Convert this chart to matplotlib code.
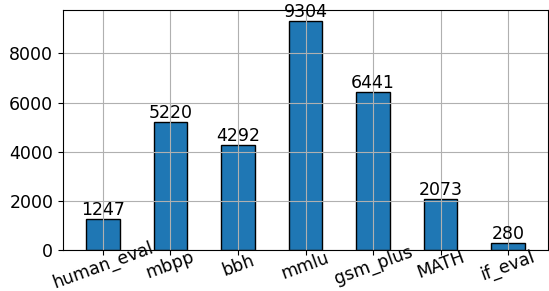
import matplotlib
matplotlib.use("Agg")
import matplotlib.pyplot as plt

categories = ["human_eval", "mbpp", "bbh", "mmlu", "gsm_plus", "MATH", "if_eval"]
counts = [1247, 5220, 4292, 9304, 6441, 2073, 280]

plt.rcParams['font.size'] = 12.5
fig = plt.figure(figsize=(5.49, 2.91), dpi=100)
ax = fig.add_axes([63/549, 41/291, (548-63)/549, (250-10)/291])
x = range(len(categories))
bars = ax.bar(x, counts, width=0.5, color="#1f77b4", edgecolor="black", linewidth=1)
ax.set_xticks(list(x))
ax.set_xticklabels(categories, rotation=20, ha="center", va="center",
                   rotation_mode="anchor")
ax.tick_params(axis="x", pad=7.5)
ax.grid(True)
ax.bar_label(bars, labels=[str(c) for c in counts], padding=0, fontsize=12.5)
ax.set_xlim(-0.59, len(categories) - 0.41)
fig.savefig("out.png", dpi=100)
